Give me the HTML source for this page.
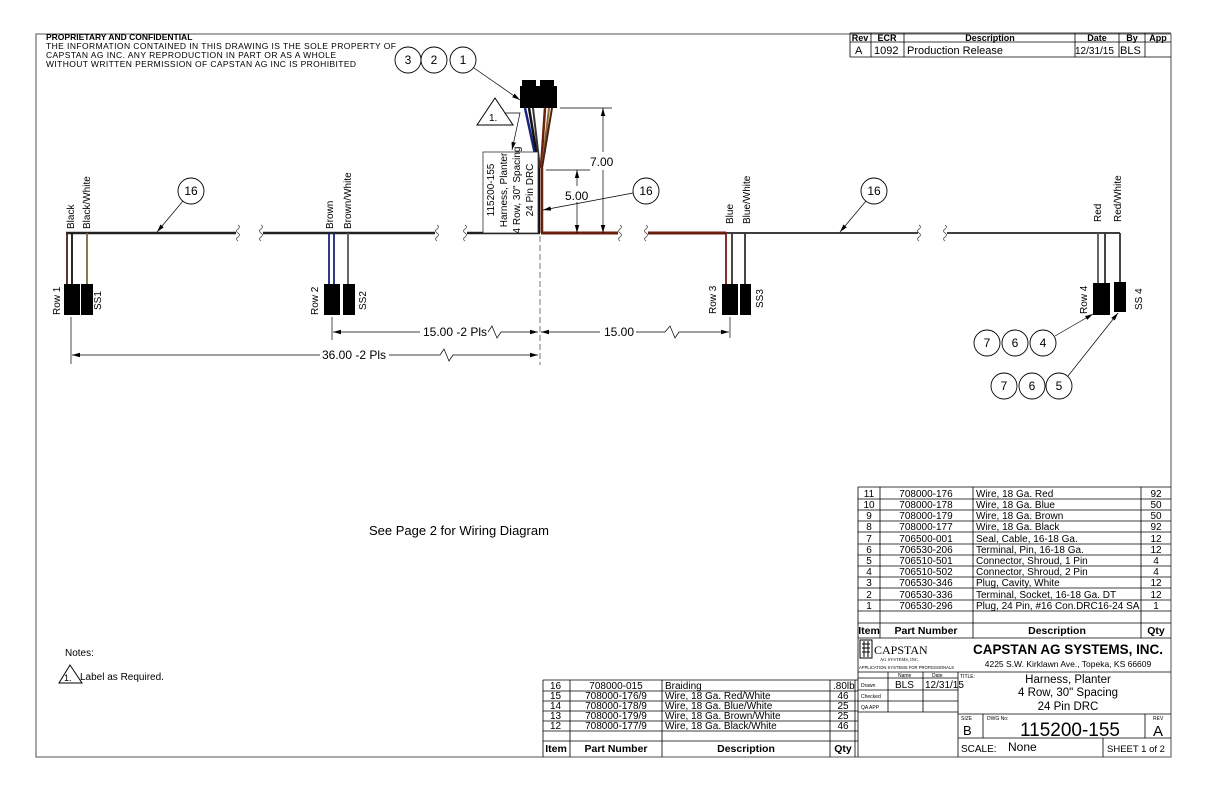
<!DOCTYPE html>
<html><head><meta charset="utf-8"><style>
html,body{margin:0;padding:0;background:#fff}
svg{display:block}
text{font-family:"Liberation Sans",sans-serif;fill:#000}
</style></head><body>
<svg width="1224" height="792" viewBox="0 0 1224 792" xmlns="http://www.w3.org/2000/svg">
<defs>
<marker id="ar" markerWidth="8" markerHeight="6" refX="8" refY="3" orient="auto" markerUnits="userSpaceOnUse"><path d="M0,0.8 L8,3 L0,5.2z" fill="#000"/></marker>
</defs>
<path d="M36,34 H1171 V757 H36 Z" fill="none" stroke="#777" stroke-width="1.3"/>
<text x="46" y="40" font-size="8.5" font-weight="bold">PROPRIETARY AND CONFIDENTIAL</text>
<text x="46" y="49" font-size="8.5" textLength="350">THE INFORMATION CONTAINED IN THIS DRAWING IS THE SOLE PROPERTY OF</text>
<text x="46" y="58" font-size="8.5" textLength="290">CAPSTAN AG INC. ANY REPRODUCTION IN PART OR AS A WHOLE</text>
<text x="46" y="67" font-size="8.5" textLength="310">WITHOUT WRITTEN PERMISSION OF CAPSTAN AG INC IS PROHIBITED</text>
<g stroke="#000" stroke-width="0.8" fill="none">
<path d="M850,33 H1171 M850,42 H1171 M850,57 H1171 M850,33 V57 M871,33 V57 M904,33 V57 M1075,33 V57 M1119,33 V57 M1145,33 V57"/>
</g>
<g font-size="9" font-weight="bold" text-anchor="middle">
<text x="860" y="41">Rev</text><text x="887" y="41">ECR</text><text x="990" y="41">Description</text><text x="1097" y="41">Date</text><text x="1132" y="41">By</text><text x="1158" y="41">App</text>
</g>
<g font-size="11">
<text x="855" y="54">A</text><text x="874" y="54">1092</text><text x="907" y="54">Production Release</text><text x="1075" y="54" font-size="10">12/31/15</text><text x="1120" y="54">BLS</text>
</g>

<g stroke-width="2.4" fill="none">
<path d="M66,233 H236" stroke="#222"/>
<path d="M263,233 H435" stroke="#222"/>
<path d="M467,233 H540" stroke="#222"/>
<path d="M541,233 H618" stroke="#6b1f10" stroke-width="3"/>
<path d="M648,233 H726" stroke="#6b1f10" stroke-width="3"/>
<path d="M726,233 H918" stroke="#222" stroke-width="1.8"/>
<path d="M947,233 H1120" stroke="#222" stroke-width="1.8"/>
</g>
<g stroke="#555" stroke-width="0.8" fill="none">
<path d="M238,225 q3,2 0,4 q-3,2 0,4 q3,2 0,4 q-3,2 0,4"/>
<path d="M261,225 q3,2 0,4 q-3,2 0,4 q3,2 0,4 q-3,2 0,4"/>
<path d="M437,225 q3,2 0,4 q-3,2 0,4 q3,2 0,4 q-3,2 0,4"/>
<path d="M465,225 q3,2 0,4 q-3,2 0,4 q3,2 0,4 q-3,2 0,4"/>
<path d="M620,225 q3,2 0,4 q-3,2 0,4 q3,2 0,4 q-3,2 0,4"/>
<path d="M646,225 q3,2 0,4 q-3,2 0,4 q3,2 0,4 q-3,2 0,4"/>
<path d="M919,225 q3,2 0,4 q-3,2 0,4 q3,2 0,4 q-3,2 0,4"/>
<path d="M945,225 q3,2 0,4 q-3,2 0,4 q3,2 0,4 q-3,2 0,4"/>
</g>
<g stroke-width="1.8" fill="none">
<path d="M67,233 V284" stroke="#4a2010"/><path d="M72,233 V284" stroke="#111"/><path d="M87,233 V284" stroke="#7a6a40"/>
<path d="M329,233 V284" stroke="#1a237e"/><path d="M334,233 V284" stroke="#1a237e"/><path d="M348,233 V284" stroke="#555"/>
<path d="M726,233 V284" stroke="#7a1a10"/><path d="M732,233 V284" stroke="#333"/><path d="M745,233 V284" stroke="#333"/>
<path d="M1098,233 V284" stroke="#555"/><path d="M1105,233 V284" stroke="#333"/><path d="M1120,233 V284" stroke="#333"/>
</g>
<g fill="#000">
<rect x="64" y="284" width="16" height="31"/><rect x="81" y="284" width="12" height="31"/>
<rect x="324" y="284" width="16" height="31"/><rect x="343" y="284" width="12" height="31"/>
<rect x="722" y="284" width="16" height="31"/><rect x="740" y="284" width="11" height="31"/>
<rect x="1093" y="283" width="17" height="32"/><rect x="1114" y="282" width="12" height="30"/>
</g>
<g font-size="10">
<text transform="translate(74,229) rotate(-90)">Black</text>
<text transform="translate(90,229) rotate(-90)">Black/White</text>
<text transform="translate(333,229) rotate(-90)">Brown</text>
<text transform="translate(351,229) rotate(-90)">Brown/White</text>
<text transform="translate(733,224) rotate(-90)">Blue</text>
<text transform="translate(750,224) rotate(-90)">Blue/White</text>
<text transform="translate(1101,222) rotate(-90)">Red</text>
<text transform="translate(1121,222) rotate(-90)">Red/White</text>
<text transform="translate(60,315) rotate(-90)">Row 1</text>
<text transform="translate(101,310) rotate(-90)">SS1</text>
<text transform="translate(318,315) rotate(-90)">Row 2</text>
<text transform="translate(366,310) rotate(-90)">SS2</text>
<text transform="translate(716,314) rotate(-90)">Row 3</text>
<text transform="translate(763,308) rotate(-90)">SS3</text>
<text transform="translate(1087,314) rotate(-90)">Row 4</text>
<text transform="translate(1142,310) rotate(-90)">SS 4</text>
</g>

<g>
<rect x="522" y="80" width="14" height="8" fill="#000"/><rect x="540" y="80" width="14" height="8" fill="#000"/>
<rect x="520" y="86" width="37" height="22" fill="#000"/>
<path d="M525,108 L538,168" stroke="#1a237e" stroke-width="2.5"/>
<path d="M529,108 L539,168" stroke="#111" stroke-width="2.5"/>
<path d="M533,108 L540,168" stroke="#333" stroke-width="2"/>
<path d="M545,108 L541,168" stroke="#6b1f10" stroke-width="2.5"/>
<path d="M549,108 L542,168" stroke="#8a6a30" stroke-width="2"/>
<path d="M552,108 L542,168" stroke="#4a2010" stroke-width="2"/>
<path d="M539,168 V233" stroke="#111" stroke-width="2.5"/>
<path d="M542,168 V233" stroke="#6b1f10" stroke-width="2.5"/>
<path d="M540,236 V365" stroke="#555" stroke-width="0.8" stroke-dasharray="6,3"/>
</g>
<rect x="483" y="152" width="55" height="81" fill="#fff" stroke="#333" stroke-width="0.8"/>
<g font-size="10" text-anchor="middle">
<text transform="translate(494,190) rotate(-90)">115200-155</text>
<text transform="translate(507,190) rotate(-90)">Harness, Planter</text>
<text transform="translate(520,190) rotate(-90)">4 Row, 30" Spacing</text>
<text transform="translate(533,190) rotate(-90)">24 Pin DRC</text>
</g>
<path d="M495,98 L513,125 L477,125 Z" fill="#fff" stroke="#000" stroke-width="1"/>
<text x="489" y="121" font-size="10">1.</text>
<path d="M505,113 H520 L512,150" fill="none" stroke="#000" stroke-width="0.7" marker-end="url(#ar)"/>

<g stroke="#000" stroke-width="0.7" fill="none">
<path d="M560,108 H612"/>
<path d="M603,152 V108" marker-end="url(#ar)"/><path d="M603,170 V233" marker-end="url(#ar)"/>
<path d="M546,170 H590"/>
<path d="M577,186 V170" marker-end="url(#ar)"/><path d="M577,202 V233" marker-end="url(#ar)"/>
</g>
<text x="590" y="166" font-size="12">7.00</text>
<text x="565" y="200" font-size="12">5.00</text>

<g fill="#fff" stroke="#000" stroke-width="0.9">
<circle cx="408" cy="60" r="13"/><circle cx="434" cy="60" r="13"/><circle cx="463" cy="60" r="13"/>
<circle cx="191" cy="191" r="13"/><circle cx="646" cy="191" r="13"/><circle cx="874" cy="191" r="13"/>
<circle cx="987" cy="343" r="13"/><circle cx="1015" cy="343" r="13"/><circle cx="1043" cy="343" r="13"/>
<circle cx="1004" cy="386" r="13"/><circle cx="1032" cy="386" r="13"/><circle cx="1059" cy="386" r="13"/>
</g>
<g font-size="12" text-anchor="middle">
<text x="408" y="64">3</text><text x="434" y="64">2</text><text x="463" y="64">1</text>
<text x="191" y="195">16</text><text x="646" y="195">16</text><text x="874" y="195">16</text>
<text x="987" y="347">7</text><text x="1015" y="347">6</text><text x="1043" y="347">4</text>
<text x="1004" y="390">7</text><text x="1032" y="390">6</text><text x="1059" y="390">5</text>
</g>
<g stroke="#000" stroke-width="0.7" fill="none">
<path d="M474,68 L520,100" marker-end="url(#ar)"/>
<path d="M183,201 L157,232" marker-end="url(#ar)"/>
<path d="M633,193 L543,210" marker-end="url(#ar)"/>
<path d="M866,201 L840,232" marker-end="url(#ar)"/>
<path d="M1055,336 L1093,314" marker-end="url(#ar)"/>
<path d="M1068,376 L1118,313" marker-end="url(#ar)"/>
</g>

<g stroke="#000" stroke-width="0.7" fill="none">
<path d="M332,317 V340"/><path d="M71,317 V364"/><path d="M730,317 V338"/>
<path d="M420,332 H333" marker-end="url(#ar)"/>
<path d="M488,332 L492,326 L497,338 L501,332 H538" marker-end="url(#ar)"/>
<path d="M600,332 H541" marker-end="url(#ar)"/>
<path d="M636,332 H665 L670,326 L675,338 L679,332 H729" marker-end="url(#ar)"/>
<path d="M320,355 H72" marker-end="url(#ar)"/>
<path d="M389,355 H440 L444,349 L449,361 L453,355 H538" marker-end="url(#ar)"/>
</g>
<g font-size="12">
<text x="423" y="336">15.00 -2 Pls</text>
<text x="604" y="336">15.00</text>
<text x="322" y="359">36.00 -2 Pls</text>
</g>

<text x="369" y="535" font-size="13">See Page 2 for Wiring Diagram</text>
<text x="65" y="656" font-size="10">Notes:</text>
<path d="M59,683 L70,665 L82,683 Z" fill="none" stroke="#000" stroke-width="1"/>
<text x="64" y="681" font-size="9">1.</text>
<text x="80" y="680" font-size="10">Label as Required.</text>

<g stroke="#000" stroke-width="0.8" fill="none">
<path d="M858,487 H1171 M858,499 H1171 M858,510 H1171 M858,521 H1171 M858,532 H1171 M858,544 H1171 M858,555 H1171 M858,566 H1171 M858,577 H1171 M858,588 H1171 M858,600 H1171 M858,611 H1171 M858,623 H1171 M858,638 H1171"/>
<path d="M858,487 V757 M880,487 V638 M973,487 V638 M1141,487 V638"/>
<path d="M858,672 H1171 M858,678 H958 M858,690 H958 M858,701 H958 M858,712 H958 M958,672 V757 M888,672 V712 M923,672 V712 M958,714 H1171 M983,714 V738 M1145,714 V738 M958,738 H1171 M1103,738 V757"/>
</g>
<g font-size="10">
<g text-anchor="middle">
<text x="869" y="497">11</text><text x="869" y="508">10</text><text x="869" y="519">9</text><text x="869" y="530">8</text><text x="869" y="542">7</text><text x="869" y="553">6</text><text x="869" y="564">5</text><text x="869" y="575">4</text><text x="869" y="586">3</text><text x="869" y="598">2</text><text x="869" y="609">1</text>
<text x="926" y="497">708000-176</text><text x="926" y="508">708000-178</text><text x="926" y="519">708000-179</text><text x="926" y="530">708000-177</text><text x="926" y="542">706500-001</text><text x="926" y="553">706530-206</text><text x="926" y="564">706510-501</text><text x="926" y="575">706510-502</text><text x="926" y="586">706530-346</text><text x="926" y="598">706530-336</text><text x="926" y="609">706530-296</text>
<text x="1156" y="497">92</text><text x="1156" y="508">50</text><text x="1156" y="519">50</text><text x="1156" y="530">92</text><text x="1156" y="542">12</text><text x="1156" y="553">12</text><text x="1156" y="564">4</text><text x="1156" y="575">4</text><text x="1156" y="586">12</text><text x="1156" y="598">12</text><text x="1156" y="609">1</text>
</g>
<text x="976" y="497">Wire, 18 Ga. Red</text><text x="976" y="508">Wire, 18 Ga. Blue</text><text x="976" y="519">Wire, 18 Ga. Brown</text><text x="976" y="530">Wire, 18 Ga. Black</text><text x="976" y="542">Seal, Cable, 16-18 Ga.</text><text x="976" y="553">Terminal, Pin, 16-18 Ga.</text><text x="976" y="564">Connector, Shroud, 1 Pin</text><text x="976" y="575">Connector, Shroud, 2 Pin</text><text x="976" y="586">Plug, Cavity, White</text><text x="976" y="598">Terminal, Socket, 16-18 Ga. DT</text><text x="976" y="609">Plug, 24 Pin, #16 Con.DRC16-24 SA</text>
</g>
<g font-size="10.5" font-weight="bold" text-anchor="middle">
<text x="869" y="634">Item</text><text x="926" y="634">Part Number</text><text x="1057" y="634">Description</text><text x="1156" y="634">Qty</text>
</g>
<rect x="860" y="640" width="12" height="18" fill="none" stroke="#000" stroke-width="1"/>
<path d="M862,644 H870 M862,648 H870 M862,652 H870 M864,641 V657 M868,641 V657" stroke="#000" stroke-width="1"/>
<text x="874" y="654" font-size="12" style="font-family:'Liberation Serif',serif">CAPSTAN</text>
<text x="880" y="661" font-size="4.5" style="font-family:'Liberation Serif',serif">AG SYSTEMS, INC.</text>
<text x="859" y="669" font-size="4.2">APPLICATION SYSTEMS FOR PROFESSIONALS</text>
<text x="1068" y="654" font-size="14" font-weight="bold" text-anchor="middle" textLength="190" lengthAdjust="spacingAndGlyphs">CAPSTAN AG SYSTEMS, INC.</text>
<text x="1068" y="667" font-size="8.5" text-anchor="middle">4225 S.W. Kirklawn Ave., Topeka, KS 66609</text>
<g font-size="5">
<text x="898" y="677">Name</text><text x="932" y="677">Date</text>
<text x="861" y="687">Drawn</text><text x="861" y="698">Checked</text><text x="861" y="709">QA APP</text>
<text x="960" y="678">TITLE:</text>
<text x="961" y="720">SIZE</text><text x="987" y="720">DWG No:</text><text x="1153" y="720">REV</text>
</g>
<text x="895" y="688" font-size="10">BLS</text>
<text x="925" y="688" font-size="10">12/31/15</text>
<g font-size="11.5" text-anchor="middle">
<text x="1068" y="683">Harness, Planter</text>
<text x="1068" y="696">4 Row, 30" Spacing</text>
<text x="1068" y="710">24 Pin DRC</text>
</g>
<text x="963" y="735" font-size="13">B</text>
<text x="1070" y="736" font-size="19" text-anchor="middle">115200-155</text>
<text x="1158" y="736" font-size="15" text-anchor="middle">A</text>
<text x="961" y="752" font-size="10">SCALE:</text>
<text x="1008" y="751" font-size="12">None</text>
<text x="1107" y="752" font-size="9.5">SHEET 1 of 2</text>

<g stroke="#000" stroke-width="0.8" fill="none">
<path d="M543,680 H858 M543,691 H858 M543,701 H858 M543,711 H858 M543,721 H858 M543,731 H858 M543,741 H858"/>
<path d="M543,680 V757 M570,680 V757 M662,680 V757 M830,680 V757 M855,680 V757"/>
</g>
<g font-size="10">
<text x="550" y="689">16</text><text x="550" y="699">15</text><text x="550" y="709">14</text><text x="550" y="719">13</text><text x="550" y="729">12</text>
<g text-anchor="middle">
<text x="616" y="689">708000-015</text><text x="616" y="699">708000-176/9</text><text x="616" y="709">708000-178/9</text><text x="616" y="719">708000-179/9</text><text x="616" y="729">708000-177/9</text>
<text x="843" y="699">46</text><text x="843" y="709">25</text><text x="843" y="719">25</text><text x="843" y="729">46</text>
</g>
<text x="665" y="689">Braiding</text><text x="665" y="699">Wire, 18 Ga. Red/White</text><text x="665" y="709">Wire, 18 Ga. Blue/White</text><text x="665" y="719">Wire, 18 Ga. Brown/White</text><text x="665" y="729">Wire, 18 Ga. Black/White</text>
<text x="833" y="689">.80lb</text>
</g>
<g font-size="10.5" font-weight="bold" text-anchor="middle">
<text x="556" y="752">Item</text><text x="616" y="752">Part Number</text><text x="746" y="752">Description</text><text x="843" y="752">Qty</text>
</g>
</svg>
</body></html>
